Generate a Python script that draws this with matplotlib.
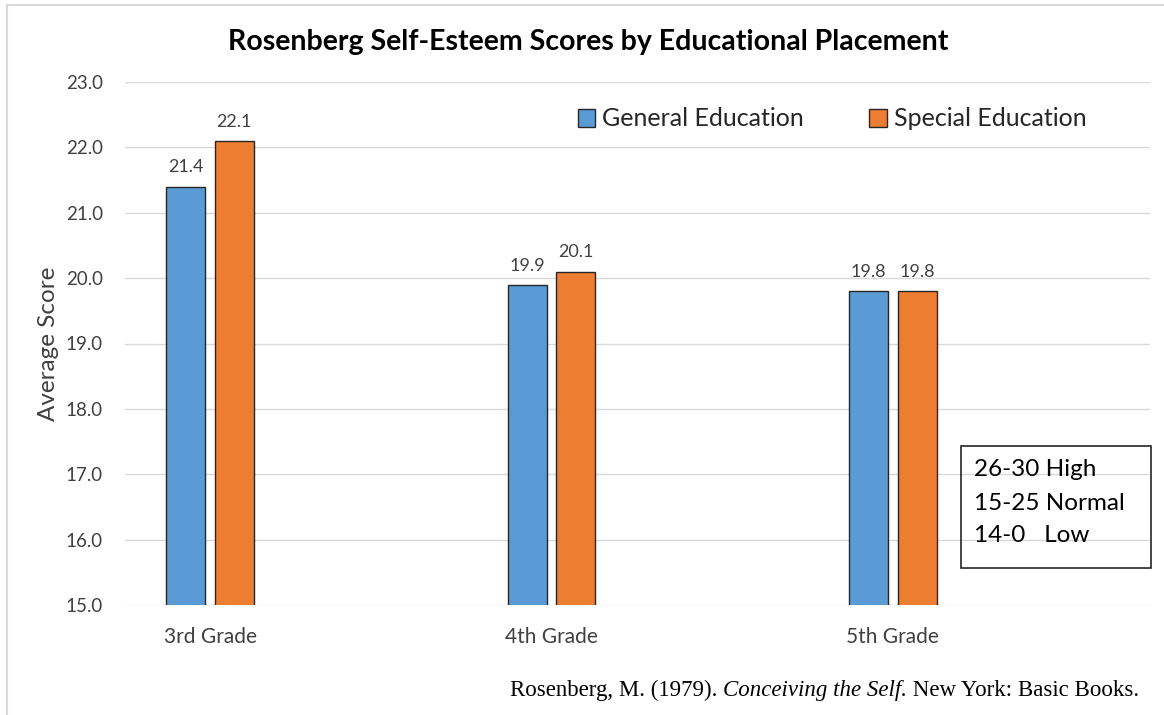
import matplotlib.pyplot as plt
import matplotlib.lines as mlines
import matplotlib.patches as mpatches
import numpy as np

plt.rcParams['font.family'] = ['Lato', 'DejaVu Sans']

grades = ["3rd Grade", "4th Grade", "5th Grade"]
general = [21.4, 19.9, 19.8]
special = [22.1, 20.1, 19.8]
series_names = ["General Education", "Special Education"]
yticks = [15.0, 16.0, 17.0, 18.0, 19.0, 20.0, 21.0, 22.0, 23.0]
scale_lines = ["26-30 High", "15-25 Normal", "14-0   Low"]

W, H = 1164, 715
fig = plt.figure(figsize=(W / 100, H / 100), dpi=100)
ax = fig.add_axes([125 / W, 1 - 605 / H, (1150 - 125) / W, (605 - 82) / H])

x = np.arange(len(grades))
bw = 0.114
off = 0.071
b1 = ax.bar(x - off, general, bw, color='#5B9BD5',
            edgecolor='#262626', linewidth=1, label=series_names[0], zorder=3)
b2 = ax.bar(x + off, special, bw, color='#ED7D31',
            edgecolor='#262626', linewidth=1, label=series_names[1], zorder=3)

# value labels above bars
for bars in (b1, b2):
    ax.bar_label(bars, fmt='%.1f', padding=8, fontsize=13, color='#404040')

ax.set_ylim(15, 23)
ax.set_xlim(-0.249, 2.753)
ax.set_yticks(yticks)
ax.set_yticklabels(['%.1f' % v for v in yticks])
ax.set_xticks(x)
ax.set_xticklabels(grades)
ax.tick_params(axis='both', length=0, labelcolor='#404040')
ax.tick_params(axis='y', pad=16, labelsize=13.5)
ax.tick_params(axis='x', pad=16, labelsize=15)
ax.grid(axis='y', color='#d9d9d9', linewidth=1, zorder=0)
for s in ax.spines.values():
    s.set_visible(False)
ax.set_ylabel("Average Score", fontsize=17.5, color='#404040')
ax.yaxis.set_label_coords(-0.064, 0.5)

fig.text(588 / W, 1 - 42 / H, "Rosenberg Self-Esteem Scores by Educational Placement",
         ha='center', va='center', fontsize=20.5, fontweight='bold', color='#000000')

leg = fig.legend(handles=[b1, b2], loc='center left',
                 bbox_to_anchor=(555 / W, 1 - 119 / H), ncol=2, frameon=False,
                 fontsize=18, handlelength=0.7, handleheight=0.7,
                 handletextpad=0.3, columnspacing=2.6)
for t in leg.get_texts():
    t.set_color('#262626')

# scale box
fig.add_artist(mpatches.Rectangle((961 / W, 1 - 568 / H), 190 / W, 122 / H,
                                  transform=fig.transFigure, fill=False,
                                  edgecolor='#262626', linewidth=1.2))
for i, line in enumerate(scale_lines):
    fig.text(974 / W, 1 - (470 + 33 * i) / H, line, ha='left', va='center',
             fontsize=17.5, color='#000000')

# outer chart frame (top and left edges)
fig.add_artist(mlines.Line2D([7 / W, 1], [1 - 5 / H, 1 - 5 / H],
                             transform=fig.transFigure, color='#d9d9d9', linewidth=1.5))
fig.add_artist(mlines.Line2D([7 / W, 7 / W], [0, 1 - 5 / H],
                             transform=fig.transFigure, color='#d9d9d9', linewidth=1.5))

# citation, italic book title in the middle
t1 = fig.text(510 / W, 1 - 690 / H, "Rosenberg, M. (1979). ", ha='left', va='center',
              fontsize=16.5, family='Liberation Serif')
t2 = plt.annotate("Conceiving the Self.", xy=(1, 0), xycoords=t1, va='bottom',
                  fontsize=16.5, family='Liberation Serif', style='italic',
                  annotation_clip=False)
t3 = plt.annotate(" New York: Basic Books.", xy=(1, 0), xycoords=t2, va='bottom',
                  fontsize=16.5, family='Liberation Serif', annotation_clip=False)

fig.savefig("out.png", dpi=100)
